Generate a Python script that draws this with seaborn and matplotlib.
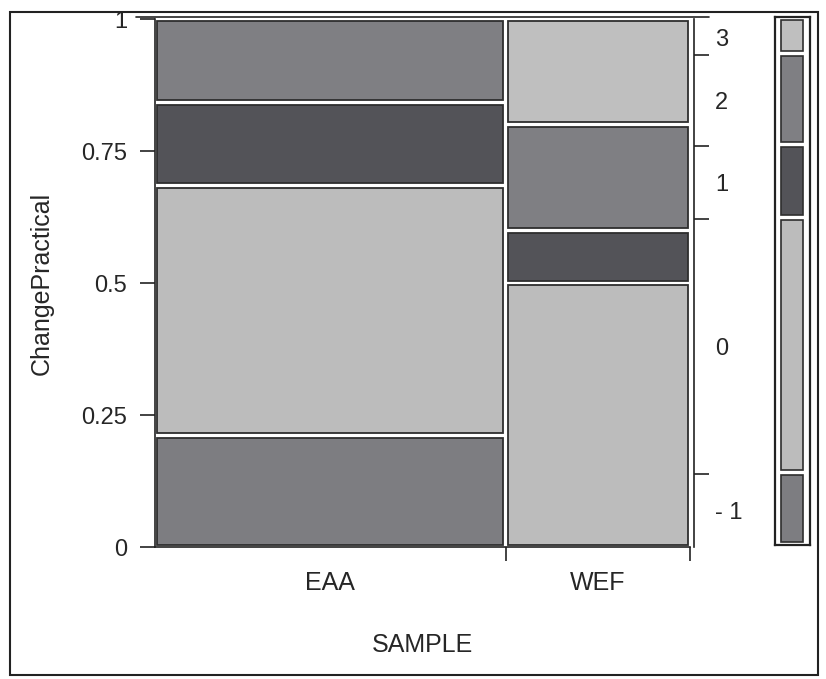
import numpy as np
import pandas as pd
import matplotlib
matplotlib.use("Agg")
import matplotlib.pyplot as plt
from matplotlib.patches import Rectangle
import seaborn as sns

# ---- data (counts read from the mosaic) ----
samples = ["EAA", "WEF"]
levels = ["-1", "0", "1", "2", "3"]
level_labels = ["- 1", "0", "1", "2", "3"]
eaa_counts = [4, 9, 3, 3, 0]
wef_counts = [0, 5, 1, 2, 2]

level_colors = {"-1": "#7d7d81", "0": "#bcbcbc", "1": "#535358",
                "2": "#7f7f83", "3": "#bfbfbf"}

sns.set_style("ticks")
plt.rcParams["font.family"] = ["Liberation Sans", "DejaVu Sans"]

df = pd.DataFrame({"SAMPLE": np.repeat(samples, len(levels)),
                   "ChangePractical": levels * len(samples),
                   "count": eaa_counts + wef_counts})

W, H = 826, 679
fig = plt.figure(figsize=(W / 100, H / 100), dpi=100)

ax = fig.add_axes([155 / W, 1 - 547 / H, 535 / W, 528 / H])

tot = df.groupby("SAMPLE", sort=False)["count"].sum()
col_w = tot / tot.sum()
col_left = col_w.cumsum() - col_w

gx, gy = 0.009, 0.009
ec = "#2e2e2e"
for s in samples:
    sub = df[df["SAMPLE"] == s]
    props = sub["count"].values / sub["count"].sum()
    bottoms = np.concatenate([[0], np.cumsum(props)[:-1]])
    for lev, p, b in zip(sub["ChangePractical"], props, bottoms):
        if p <= 0:
            continue
        ax.bar(col_left[s] + gx / 2, p - gy, width=col_w[s] - gx,
               bottom=b + gy / 2, align="edge",
               color=level_colors[lev], edgecolor=ec, linewidth=1.3)

ax.set_xlim(0, 1)
ax.set_ylim(0, 1)

# left axis
ax.set_yticks([0, 0.25, 0.5, 0.75, 1])
ax.set_yticklabels(["0", "0.25", "0.5", "0.75", "1"])
ax.tick_params(axis="y", length=11, width=1.2, pad=9, labelsize=17, color="#222")
ax.set_ylabel("ChangePractical", fontsize=18, labelpad=20)

# bottom axis: boundaries as ticks, names at centres
bounds = list(col_left.values) + [1.0]
ax.set_xticks(bounds[1:])
ax.set_xticklabels([])
ax.set_xticks((col_left + col_w / 2).values, minor=True)
ax.set_xticklabels(samples, minor=True)
ax.tick_params(axis="x", which="major", length=10, width=1.2, color="#222")
ax.tick_params(axis="x", which="minor", length=0, pad=17, labelsize=18)
ax.set_xlabel("SAMPLE", fontsize=18, labelpad=28)

for sp in ["left", "bottom"]:
    ax.spines[sp].set_linewidth(1.2)
    ax.spines[sp].set_color("#222")
ax.spines["top"].set_visible(False)
ax.spines["right"].set_visible(False)
ax.plot([-0.035, 1.035], [1.003, 1.003], transform=ax.transAxes,
        color="#222", lw=1.2, clip_on=False)

# right axis: marginal distribution of ChangePractical
marg = df.groupby("ChangePractical", sort=False)["count"].sum()
marg = marg / marg.sum()
mcum = marg.cumsum()
mbot = mcum - marg
ax2 = ax.twinx()
ax2.set_ylim(0, 1)
ax2.set_yticks(mcum.values[:-1])
ax2.set_yticklabels([])
ax2.set_yticks((mbot + marg / 2).values, minor=True)
ax2.set_yticklabels(level_labels, minor=True)
ax2.tick_params(axis="y", which="major", length=11, width=1.2, color="#222")
ax2.tick_params(axis="y", which="minor", length=0, pad=15, labelsize=17)
for sp in ["top", "left", "bottom"]:
    ax2.spines[sp].set_visible(False)
ax2.spines["right"].set_position(("outward", 3))
ax2.spines["right"].set_linewidth(1.2)
ax2.spines["right"].set_color("#222")

# legend strip
lax = fig.add_axes([775 / W, 1 - 545 / H, 35 / W, 528 / H])
lax.set_xlim(0, 1)
lax.set_ylim(0, 1)
lg = 0.01
for lev in levels:
    lax.bar(0.17, marg[lev] - lg, width=0.64, bottom=mbot[lev] + lg / 2,
            align="edge", color=level_colors[lev], edgecolor=ec, linewidth=1.2)
lax.set_xticks([])
lax.set_yticks([])
for sp in lax.spines.values():
    sp.set_linewidth(1.6)
    sp.set_color("#222")

# outer frame
fig.patches.append(Rectangle((10 / W, 4 / H), 808 / W, 663 / H,
                             transform=fig.transFigure, fill=False,
                             edgecolor="#222", linewidth=1.5))

fig.savefig("out.png", dpi=100, facecolor="white")
